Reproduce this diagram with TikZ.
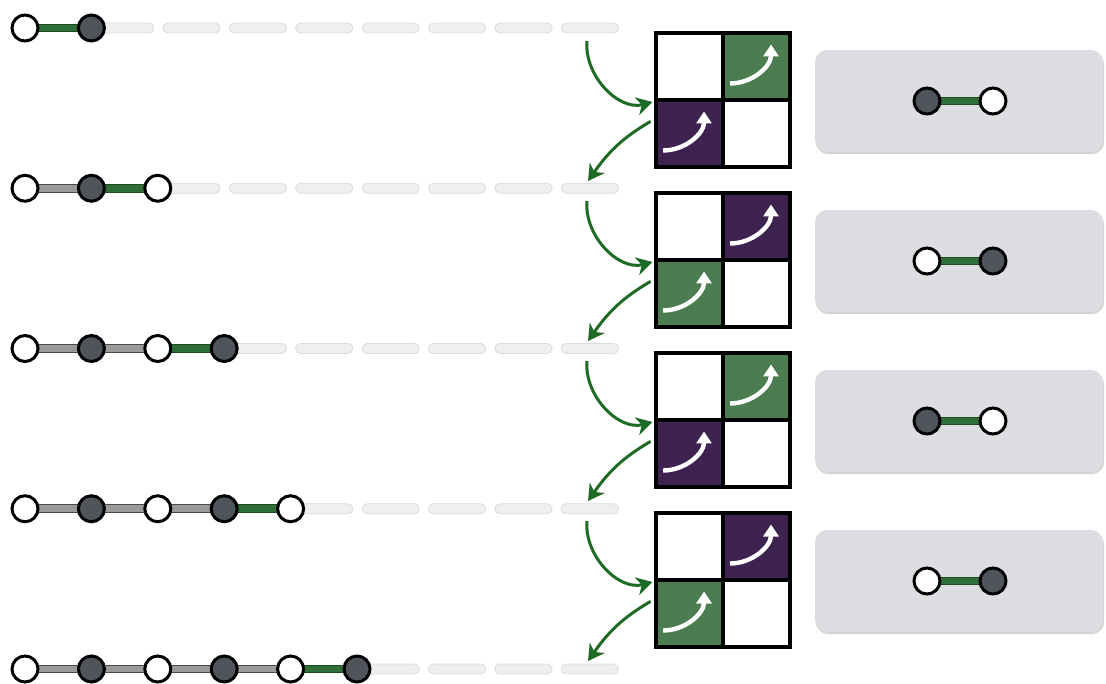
\documentclass[tikz,border=0pt]{standalone}
\usetikzlibrary{arrows.meta,shadows,calc}
\pgfdeclarelayer{bg}
\pgfdeclarelayer{mid}
\pgfsetlayers{bg,mid,main}
\definecolor{ndark}{HTML}{50555C}
\definecolor{lgreen}{HTML}{2F6E37}
\definecolor{lgreenb}{HTML}{1D4A22}
\definecolor{lgray}{HTML}{9A9A9A}
\definecolor{lgrayb}{HTML}{4A4A4A}
\definecolor{trackf}{HTML}{EFEFEF}
\definecolor{trackb}{HTML}{DCDCDC}
\definecolor{cgreen}{HTML}{4B7D50}
\definecolor{cpurple}{HTML}{3E2250}
\definecolor{agreen}{HTML}{1E6B25}
\definecolor{panelf}{HTML}{DCDDE0}
\begin{document}
\begin{tikzpicture}[x=1pt,y=-1pt,
  wnode/.style={circle,draw=black,line width=3pt,fill=white,minimum size=26pt,inner sep=0pt},
  dnode/.style={circle,draw=black,line width=3pt,fill=ndark,minimum size=26pt,inner sep=0pt},
  glink/.style={draw=lgreenb,line width=1.1pt,double=lgreen,double distance=6.6pt},
  ylink/.style={draw=lgrayb,line width=1.1pt,double=lgray,double distance=6.6pt},
  track/.style={fill=trackf,draw=trackb,line width=0.8pt,rounded corners=5pt},
  cell/.style={rectangle,draw=black,line width=4pt,minimum size=67pt,inner sep=0pt},
  warrow/.style={draw=white,line width=4.4pt,-{Triangle[length=12pt,width=15pt]}},
  garrow/.style={draw=agreen,line width=3pt,-{Stealth[length=16pt,width=18pt,inset=5pt]}},
  panel/.style={rectangle,rounded corners=12pt,fill=panelf,minimum width=288pt,minimum height=102pt,
    drop shadow={shadow xshift=1pt,shadow yshift=-2pt,opacity=0.35}}]
\useasboundingbox (0,0) rectangle (1106,684);

% chains
\foreach \r in {1,...,5}{
  \pgfmathsetmacro\yy{28+160.25*(\r-1)}
  \foreach \i in {0,...,\r}{
    \pgfmathsetmacro\xx{25+66.4*\i}
    \ifodd\i \def\st{dnode}\else\def\st{wnode}\fi
    \node[\st] (n\r-\i) at (\xx,\yy) {};
  }
  \foreach \i in {1,...,\r}{
    \pgfmathtruncatemacro\j{\i-1}
    \ifnum\i=\r \def\ls{glink}\else\def\ls{ylink}\fi
    \begin{pgfonlayer}{mid}
      \draw[\ls] (n\r-\j.center) -- (n\r-\i.center);
    \end{pgfonlayer}
  }
  \foreach \i in {\r,...,8}{
    \pgfmathsetmacro\xa{25+66.4*\i+5}
    \pgfmathsetmacro\xb{25+66.4*(\i+1)-4}
    \begin{pgfonlayer}{bg}
      \draw[track] (\xa,\yy-5) rectangle (\xb,\yy+5);
    \end{pgfonlayer}
  }
}

% grids
\foreach \k/\tr/\bl in {0/cgreen/cpurple,1/cpurple/cgreen,2/cgreen/cpurple,3/cpurple/cgreen}{
  \pgfmathsetmacro\gy{33+160*\k}
  \node[cell,fill=white] (g\k-tl) at (689,\gy+33.5) {};
  \node[cell,fill=\tr] (g\k-tr) at (756,\gy+33.5) {};
  \node[cell,fill=\bl] (g\k-bl) at (689,\gy+100.5) {};
  \node[cell,fill=white] (g\k-br) at (756,\gy+100.5) {};
  \draw[warrow] ($(g\k-tr.center)+(-26,17)$) to[out=0,in=-90] ($(g\k-tr.center)+(15,-22)$);
  \draw[warrow] ($(g\k-bl.center)+(-26,17)$) to[out=0,in=-90] ($(g\k-bl.center)+(15,-22)$);
  \coordinate (s\k) at (587,\gy+8);
  \coordinate (e\k) at (588,\gy+148);
  \draw[garrow] (s\k) to[out=-95,in=195] ($(g\k-tl.south west)+(-1,0)$);
  \draw[garrow] ($(g\k-bl.west)+(-3,-12)$) to[out=210,in=55] (e\k);
  % panel
  \begin{pgfonlayer}{bg}
    \node[panel] (p\k) at (959,\gy+68) {};
  \end{pgfonlayer}
  \ifodd\k
    \node[wnode] (p\k a) at (927,\gy+68) {};
    \node[dnode] (p\k b) at (993,\gy+68) {};
  \else
    \node[dnode] (p\k a) at (927,\gy+68) {};
    \node[wnode] (p\k b) at (993,\gy+68) {};
  \fi
  \begin{pgfonlayer}{mid}
    \draw[glink] (p\k a.center) -- (p\k b.center);
  \end{pgfonlayer}
}
\end{tikzpicture}
\end{document}
